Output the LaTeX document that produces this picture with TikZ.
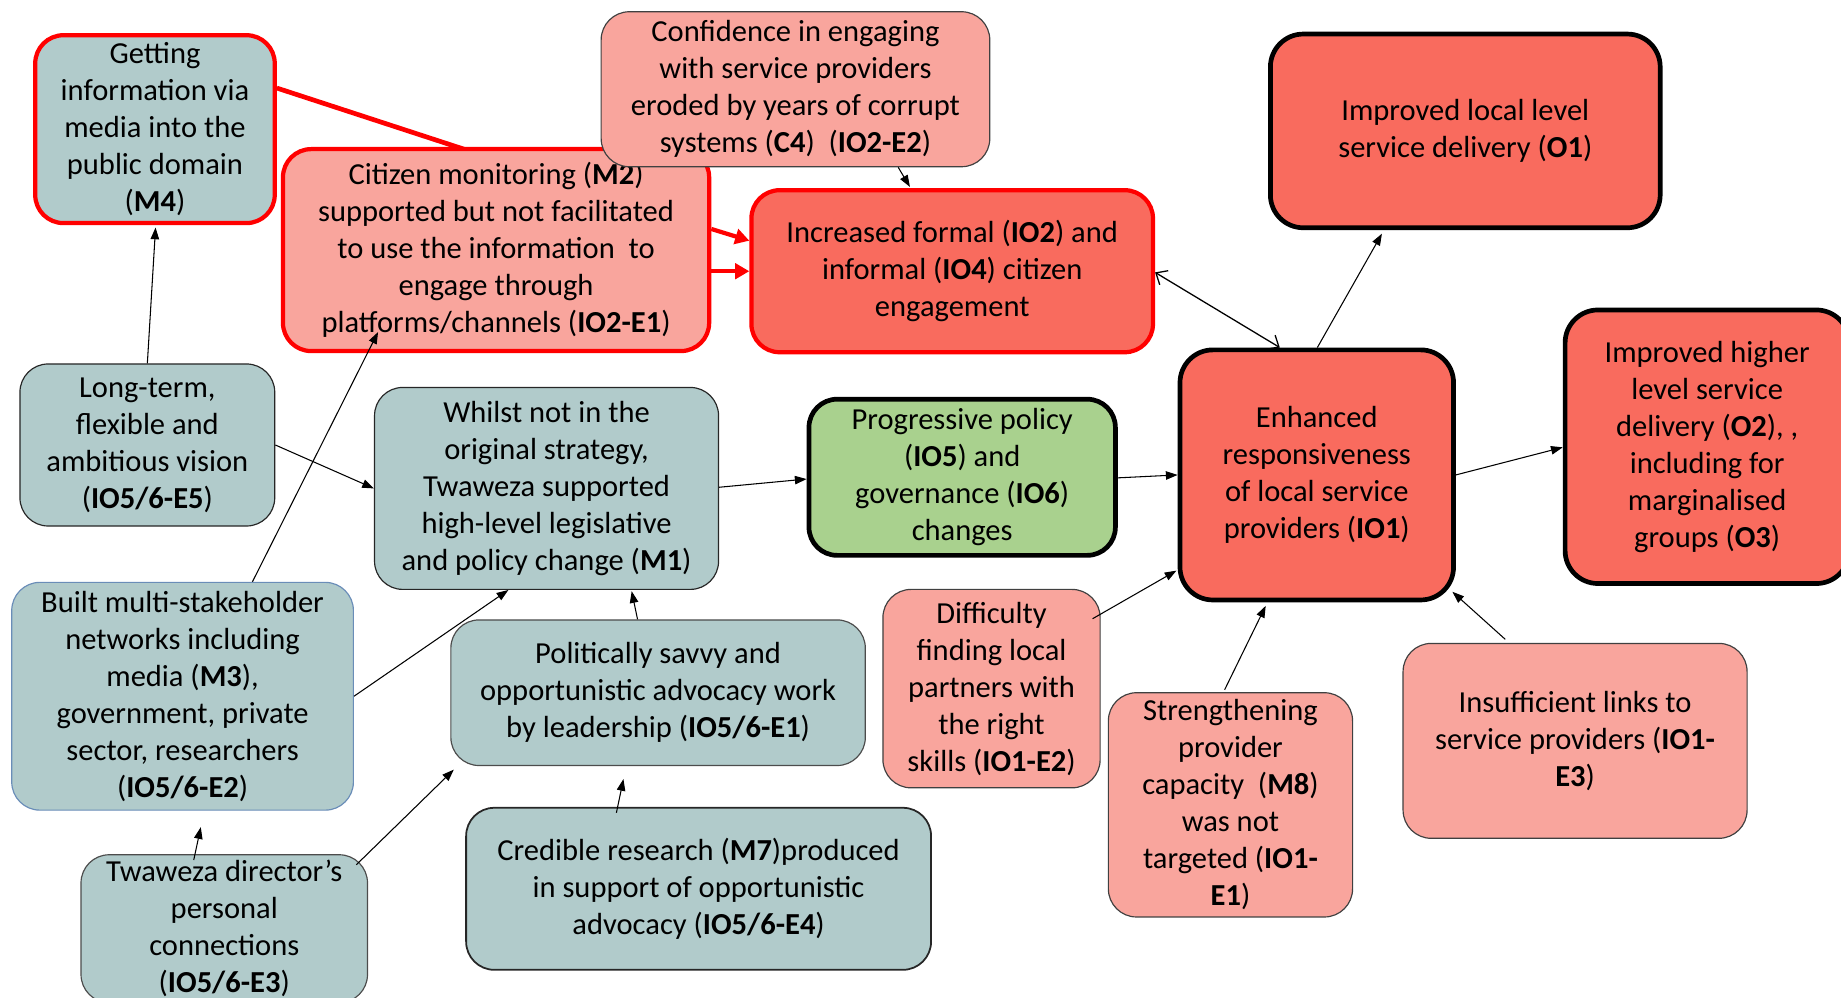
\documentclass[tikz,border=0pt]{standalone}
\usepackage{fontspec}
\setmainfont{Carlito}
\usetikzlibrary{arrows.meta,calc}

\definecolor{tealfill}{HTML}{B1CBCB}
\definecolor{pinkfill}{HTML}{F9A59D}
\definecolor{salmonfill}{HTML}{F96B5E}
\definecolor{greenfill}{HTML}{A9D18E}
\definecolor{netblue}{HTML}{6A8DB8}
\definecolor{pureRed}{HTML}{FF0000}

\begin{document}
\begin{tikzpicture}[x=0.5pt,y=-0.5pt,
  box/.style={rectangle, rounded corners=12pt, align=center, inner sep=0pt,
    font=\fontsize{13}{15.75}\selectfont},
  sz/.style 2 args={minimum width=#1*0.5pt, minimum height=#2*0.5pt},
  mechbox/.style={box, fill=tealfill, draw=black!85, line width=0.5pt},
  redmech/.style={box, fill=tealfill, draw=pureRed, line width=1.8pt},
  weakbox/.style={box, fill=pinkfill, draw=black!75, line width=0.5pt},
  redweak/.style={box, fill=pinkfill, draw=pureRed, line width=1.8pt},
  redout/.style={box, fill=salmonfill, draw=pureRed, line width=1.8pt},
  outcome/.style={box, fill=salmonfill, draw=black, line width=2pt, rounded corners=14pt},
  policy/.style={box, fill=greenfill, draw=black, line width=2pt},
  link/.style={line width=0.45pt, -{Triangle[length=5pt,width=3.6pt]}},
  redlink/.style={draw=pureRed, line width=1.8pt, -{Triangle[length=6pt,width=6.5pt]}},
  both/.style={line width=0.55pt, {Straight Barb[length=4pt,width=7pt]}-{Straight Barb[length=4pt,width=7pt]}}
]
\useasboundingbox (0,0) rectangle (1568,850);

% left column: media, monitoring and context
\node[redmech, sz={204}{160}] (M4) at (132,110)
  {Getting\\information via\\media into the\\public domain\\(\textbf{M4})};
\coordinate (M2top) at (395,127);
\draw[pureRed, line width=2pt] ($(M4.east)+(0,-35)$) -- (M2top);
\node[redweak, sz={363}{172}] (M2) at (422.5,213)
  {Citizen monitoring (\textbf{M2})\\supported but not facilitated\\to use the information\ \ to\\engage through\\platforms/channels (\textbf{IO2-E1})};
\node[weakbox, sz={331}{132}] (C4) at (677.5,76)
  {Confidence in engaging\\with service providers\\eroded by years of corrupt\\systems (\textbf{C4})\ \ (\textbf{IO2-E2})};
\node[redout, sz={342}{138}] (IO2) at (811,231)
  {Increased formal (\textbf{IO2}) and\\informal (\textbf{IO4}) citizen\\engagement};

% outcomes
\node[outcome, sz={332}{165}] (O1) at (1248,111.5)
  {Improved local level\\service delivery (\textbf{O1})};
\node[outcome, sz={233}{213}] (IO1) at (1121.5,404.5)
  {Enhanced\\responsiveness\\of local service\\providers (\textbf{IO1})};
\node[outcome, sz={242}{233}] (O2) at (1454,380.5)
  {Improved higher\\level service\\delivery (\textbf{O2}), ,\\including for\\marginalised\\groups (\textbf{O3})};

% policy pathway
\node[mechbox, sz={217}{138}] (E5) at (125.5,379)
  {Long-term,\\flexible and\\ambitious vision\\(\textbf{IO5/6-E5})};
\node[mechbox, sz={293}{172}] (M1) at (465.5,416)
  {Whilst not in the\\original strategy,\\Twaweza supported\\high-level legislative\\and policy change (\textbf{M1})};
\node[policy, sz={261}{133}] (IO5) at (819.5,406.5)
  {Progressive policy\\(\textbf{IO5}) and\\governance (\textbf{IO6})\\changes};
\node[mechbox, draw=netblue, sz={291}{194}] (E2) at (155.5,593)
  {Built multi-stakeholder\\networks including\\media (\textbf{M3}),\\government, private\\sector, researchers\\(\textbf{IO5/6-E2})};
\node[mechbox, draw=black!70, sz={353}{124}] (E1) at (560.5,590)
  {Politically savvy and\\opportunistic advocacy work\\by leadership (\textbf{IO5/6-E1})};
\node[mechbox, draw=black!70, sz={244}{126}] (E3) at (191,791)
  {Twaweza director’s\\personal\\connections\\(\textbf{IO5/6-E3})};
\node[mechbox, line width=0.75pt, sz={396}{138}] (E4) at (595,757)
  {Credible research (\textbf{M7})produced\\in support of opportunistic\\advocacy (\textbf{IO5/6-E4})};

% barriers to provider responsiveness
\node[weakbox, sz={185}{169}] (B2) at (844.5,586.5)
  {Difficulty\\finding local\\partners with\\the right\\skills (\textbf{IO1-E2})};
\node[weakbox, sz={208}{191}] (B1) at (1048,685.5)
  {Strengthening\\provider\\capacity\ \ (\textbf{M8})\\was not\\targeted (\textbf{IO1-}\\\textbf{E1})};
\node[weakbox, sz={293}{166}] (B3) at (1341.5,631)
  {Insufficient links to\\service providers (\textbf{IO1-}\\\textbf{E3})};

% connectors
\draw[redlink] ($(M2.east)+(0,-18)$) -- ($(IO2.west)+(0,-26)$);
\draw[redlink] ($(M2.east)+(0,18)$) -- (IO2.west);
\draw[link] ($(C4.south)+(87.5,0)$) -- ($(IO2.north)+(-36,-1)$);
\draw[both] ($(IO2.east)+(0,1)$) -- ($(IO1.north)+(-31.5,0)$);
\draw[link] ($(IO1.north)+(0.5,0)$) -- ($(O1.south)+(-71,3)$);
\draw[link] (IO1.east) -- ($(O2.west)+(0,0.5)$);
\draw[link] ($(IO5.east)+(0,0.5)$) -- (IO1.west);
\draw[link] ($(M1.east)+(0,-1)$) -- ($(IO5.west)+(0,1.5)$);
\draw[link] (E5.east) -- (M1.west);
\draw[link] (E5.north) -- ($(M4.south)+(0.5,2)$);
\draw[link] ($(E2.north)+(59.5,0)$) -- ($(M2.south)+(-100.5,-18)$);
\draw[link] (E2.east) -- ($(M1.south)+(-32.5,0)$);
\draw[link] ($(E1.north)+(-17.5,0)$) -- ($(M1.south)+(72.5,1)$);
\draw[link] ($(E3.north)+(-26,5)$) -- ($(E2.south)+(15.5,14)$);
\draw[link] ($(E3.north east)+(-10,9)$) -- ($(E1.south west)+(3,3)$);
\draw[link] ($(E4.north)+(-70,5)$) -- ($(E1.south)+(-29.5,11)$);
\draw[link] ($(B2.east)+(-7,-59.5)$) -- ($(IO1.west)+(-1,81.5)$);
\draw[link] ($(B1.north)+(-5,-2)$) -- ($(IO1.south)+(-43.5,3)$);
\draw[link] ($(B3.north)+(-59.5,-3)$) -- ($(IO1.south east)+(-3,-9)$);
\end{tikzpicture}
\end{document}
